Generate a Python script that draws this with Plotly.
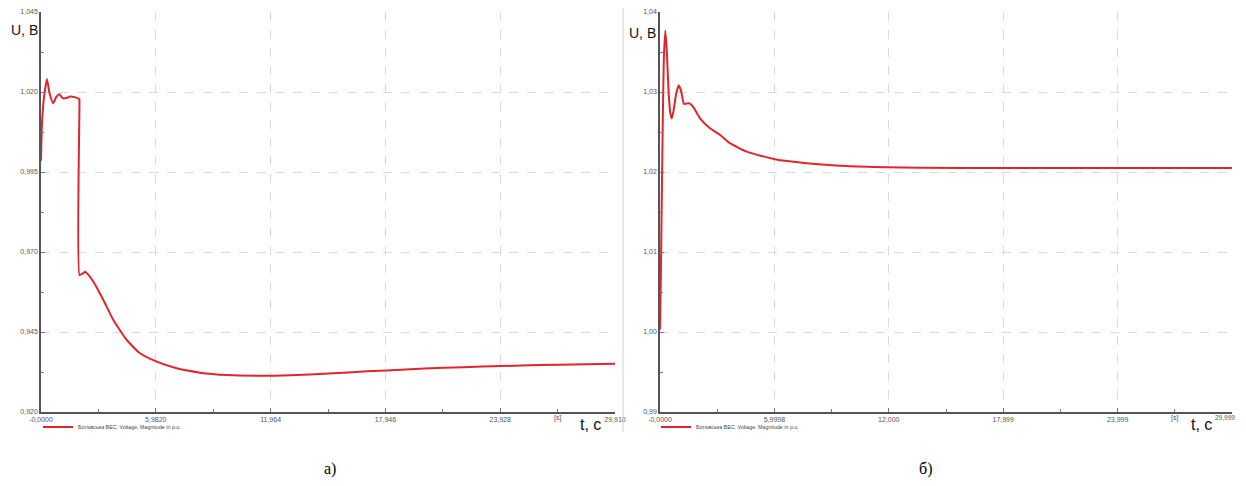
import plotly.graph_objects as go

# ---- data: panel a) ----
t_a = [0.0, 0.05, 0.15, 0.31, 0.45, 0.63, 0.8, 0.95, 1.15, 1.4, 1.5, 1.75, 1.99,
       2.0, 2.01, 2.2, 2.29, 2.45, 2.73, 3.25, 3.77, 4.47, 5.16, 6.03, 7.07, 8.29, 9.68,
       11.41, 13.0, 15.0, 17.0, 19.0, 21.0, 23.0, 25.0, 27.0, 29.91]
u_a = [0.9985, 1.0100, 1.0180, 1.0240, 1.0195, 1.0165, 1.0185, 1.0193, 1.0180, 1.0183,
       1.0186, 1.0184, 1.0178, 1.0177,
       0.9628, 0.9634, 0.9638, 0.9630, 0.9607, 0.9550, 0.94875, 0.9425, 0.93834, 0.93572,
       0.93366, 0.9323, 0.93156, 0.93134, 0.9315, 0.9320, 0.9327, 0.9333, 0.9338, 0.9342,
       0.9345, 0.9348, 0.9351]

# ---- data: panel б) ----
t_b = [0.0, 0.05, 0.1, 0.15, 0.2, 0.28, 0.36, 0.45, 0.55, 0.62, 0.72, 0.85, 0.98, 1.1,
       1.26, 1.48, 1.6, 1.75, 2.1, 2.62, 3.15, 3.67, 4.55, 6.03, 7.69, 9.79, 11.89,
       13.64, 18.0, 24.0, 29.999]
u_b = [1.0003, 1.0080, 1.0180, 1.0270, 1.0340, 1.0377, 1.0350, 1.0300, 1.0272, 1.0267,
       1.0278, 1.0298, 1.0308, 1.0302, 1.0285, 1.0286, 1.0285, 1.0281, 1.0267, 1.02546,
       1.02463, 1.0236, 1.02254, 1.02159, 1.0211, 1.02075, 1.0206, 1.02054, 1.0205,
       1.0205, 1.0205]

xtick_a = [0.0, 5.982, 11.964, 17.946, 23.928, 29.91]
xtext_a = ["-0,0000", "5,9820", "11,964", "17,946", "23,928", "29,910"]
ytick_a = [0.920, 0.945, 0.970, 0.995, 1.020, 1.045]
ytext_a = ["0,920", "0,945", "0,970", "0,995", "1,020", "1,045"]

xtick_b = [0.0, 5.9998, 12.0, 17.999, 23.999, 29.999]
xtext_b = ["-0,0000", "5,9998", "12,000", "17,999", "23,999", "29,999"]
ytick_b = [0.99, 1.00, 1.01, 1.02, 1.03, 1.04]
ytext_b = ["0,99", "1,00", "1,01", "1,02", "1,03", "1,04"]

series_name = "Ботієвська ВЕС: Voltage, Magnitude in p.u."

# page body has an 8px margin: figure is placed at (8, 8)
OFF = 8
W, H = 1238, 470
RED = "#e0262b"
FONT = "Liberation Sans, Arial, sans-serif"


def px(x):
    return (x - OFF) / W


def py(y):
    return (H - (y - OFF)) / H


fig = go.Figure()
fig.add_trace(go.Scatter(x=t_a, y=u_a, mode="lines",
                         line=dict(color=RED, width=2, shape="spline", smoothing=0.5),
                         name=series_name, xaxis="x", yaxis="y", legend="legend"))
fig.add_trace(go.Scatter(x=t_b, y=u_b, mode="lines",
                         line=dict(color=RED, width=2, shape="spline", smoothing=0.5),
                         name=series_name, xaxis="x2", yaxis="y2", legend="legend2"))

ydom = [py(412), py(12)]
dom_a = [px(41), px(615)]
dom_b = [px(660), px(1232)]


def ax(dom, tv, tt, anchor):
    return dict(domain=dom, range=[tv[0], tv[-1]], tickvals=tv, ticktext=tt, anchor=anchor,
                automargin=False,
                showline=True, linecolor="#555", linewidth=1.5, ticks="inside", ticklen=4,
                tickcolor="#777", showgrid=True, gridcolor="#d9d9d9", griddash="dash",
                gridwidth=1, zeroline=False,
                minor=dict(tickvals=[(tv[i] + tv[i + 1]) / 2 for i in range(len(tv) - 1)],
                           ticks="inside", ticklen=3, tickcolor="#777", showgrid=False),
                tickfont=dict(family=FONT, size=7, color="#555"))


leg = dict(font=dict(family=FONT, size=5.3, color="#444"), bgcolor="rgba(0,0,0,0)",
           yanchor="middle", xanchor="left", itemwidth=30, borderwidth=0)

# last tick label of the right panel is drawn as an annotation so it stays inside the page
xtext_b_axis = xtext_b[:-1] + [""]

fig.update_layout(
    template="none",
    width=W, height=H, margin=dict(l=0, r=0, t=0, b=0, autoexpand=False),
    paper_bgcolor="white", plot_bgcolor="white",
    xaxis=ax(dom_a, xtick_a, xtext_a, "y"),
    yaxis=ax(ydom, ytick_a, ytext_a, "x"),
    xaxis2=ax(dom_b, xtick_b, xtext_b_axis, "y2"),
    yaxis2=ax(ydom, ytick_b, ytext_b, "x2"),
    showlegend=True,
    legend=dict(leg, x=px(38), y=py(427)),
    legend2=dict(leg, x=px(656), y=py(427)),
)

big = dict(family=FONT, size=16, color="#111")
mid = dict(family=FONT, size=14, color="#111")
small = dict(family=FONT, size=7, color="#555")
cap = dict(family="Liberation Serif, Times New Roman, serif", size=16, color="#000")
ann = [
    dict(x=px(9), y=py(30), text="U, B", font=mid, xanchor="left"),
    dict(x=px(627), y=py(33), text="U, B", font=mid, xanchor="left"),
    dict(x=px(578), y=py(424), text="t, c", font=big, xanchor="left"),
    dict(x=px(1189), y=py(424), text="t, c", font=big, xanchor="left"),
    dict(x=px(557), y=py(418), text="[s]", font=small, xanchor="center"),
    dict(x=px(1174), y=py(418), text="[s]", font=small, xanchor="center"),
    dict(x=px(1237), y=py(417), text=xtext_b[-1], font=dict(small, size=6.5), xanchor="right"),
    dict(x=px(330), y=py(469), text="а)", font=cap, xanchor="center"),
    dict(x=px(925), y=py(469), text="б)", font=cap, xanchor="center"),
]
for a in ann:
    fig.add_annotation(xref="paper", yref="paper", yanchor="middle",
                       showarrow=False, **a)

fig.add_shape(type="line", xref="paper", yref="paper", x0=px(623), x1=px(623),
              y0=py(432), y1=py(8), line=dict(color="#cfcfcf", width=1))

fig.write_html("out.html")
